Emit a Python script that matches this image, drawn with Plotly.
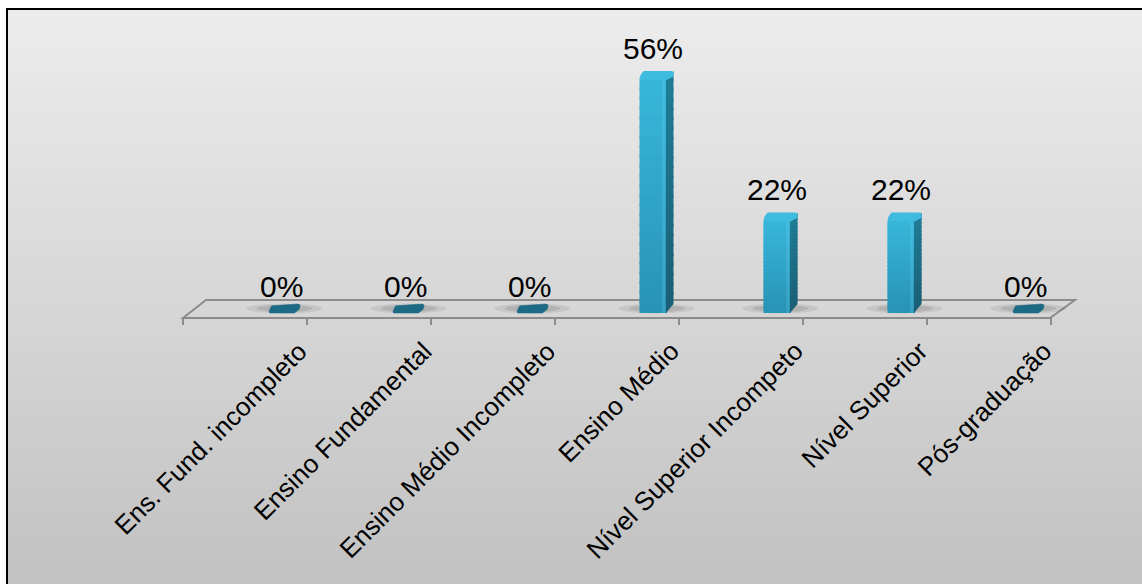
import plotly.graph_objects as go

# ---------------- data ----------------
categories = ["Ens. Fund. incompleto", "Ensino Fundamental", "Ensino Médio Incompleto",
              "Ensino Médio", "Nível Superior Incompeto", "Nível Superior", "Pós-graduação"]
values = [0, 0, 0, 56, 22, 22, 0]
labels = ["0%", "0%", "0%", "56%", "22%", "22%", "0%"]

W, H = 1142, 584
# pixel <-> data mapping (axes span whole figure)
X0PX, XSTEP = 281.0, 124.0      # px of category 0 centre, px per category
Y0PX, YSTEP = 313.0, 4.16       # px of value 0, px per percent


def xp(px):
    return (px - X0PX) / XSTEP


def yp(py):
    return (Y0PX - py) / YSTEP


def mix(c1, c2, t):
    return "rgb(%d,%d,%d)" % tuple(round(c1[j] + (c2[j] - c1[j]) * t) for j in range(3))


XR = [xp(0), xp(W)]
YR = [yp(H), yp(0)]

bar_w = 27 / XSTEP
dx = 7 / XSTEP
dy = 9 / YSTEP

shapes = []

# background gradient (strips)
n = 60
top_px, bot_px = 9, H
c_top, c_bot = (236, 236, 236), (194, 194, 194)
for k in range(n):
    t = k / (n - 1)
    y_a = top_px + (bot_px - top_px) * k / n
    y_b = top_px + (bot_px - top_px) * (k + 1) / n + 1
    shapes.append(dict(type="rect", xref="x", yref="y", x0=xp(7), x1=xp(W + 5),
                       y0=yp(y_a), y1=yp(min(y_b, H)), line=dict(width=0),
                       fillcolor=mix(c_top, c_bot, t), layer="below"))

# floor plane
fl_front_y, fl_back_y = yp(318), yp(300)
shapes.append(dict(type="path", xref="x", yref="y",
                   path="M %f,%f L %f,%f L %f,%f L %f,%f Z" % (
                       xp(183), fl_front_y, xp(1050), fl_front_y,
                       xp(1075), fl_back_y, xp(206), fl_back_y),
                   line=dict(color="#8c8c8c", width=2), fillcolor="rgba(0,0,0,0)", layer="below"))
for k in range(len(categories) + 1):
    tx = xp(183) + k
    shapes.append(dict(type="line", xref="x", yref="y", x0=tx, x1=tx,
                       y0=fl_front_y, y1=yp(325), line=dict(color="#8c8c8c", width=2), layer="below"))

# shadows under bars
for i, v in enumerate(values):
    for (hw, hh, op) in [(38 / XSTEP, 5 / YSTEP, 0.10), (28 / XSTEP, 3.5 / YSTEP, 0.14)]:
        cx = i + dx / 2
        cy = dy / 2
        shapes.append(dict(type="circle", xref="x", yref="y", x0=cx - hw, x1=cx + hw,
                           y0=cy - hh, y1=cy + hh, line=dict(width=0),
                           fillcolor="rgba(60,60,60,%.2f)" % op, layer="below"))

# front gradient, side faces and caps
front_top, front_bot = (56, 182, 218), (40, 148, 182)
side_top, side_bot = (32, 124, 150), (26, 96, 118)
for i, v in enumerate(values):
    l, r = i - bar_w / 2, i + bar_w / 2
    if v > 0:
        m = 24
        for k in range(m):
            ya = v * (1 - k / m)
            yb = v * (1 - (k + 1) / m)
            t = k / (m - 1)
            top_ext = 0.6 if k > 0 else 0.0
            shapes.append(dict(type="rect", xref="x", yref="y", x0=l, x1=r, y0=yb, y1=ya + top_ext,
                               line=dict(width=0), fillcolor=mix(front_top, front_bot, t), layer="above"))
            shapes.append(dict(type="path", xref="x", yref="y",
                               path="M %f,%f L %f,%f L %f,%f L %f,%f Z" % (
                                   r - 0.004, yb, r + dx, yb + dy, r + dx, ya + dy + top_ext,
                                   r - 0.004, ya + top_ext),
                               line=dict(width=0), fillcolor=mix(side_top, side_bot, t), layer="above"))
        # light highlight stripe near right of front face
        shapes.append(dict(type="rect", xref="x", yref="y", x0=r - 0.035, x1=r - 0.012, y0=0, y1=v,
                           line=dict(width=0), fillcolor="rgba(120,215,240,0.22)", layer="above"))
        shapes.append(dict(type="path", xref="x", yref="y",
                           path="M %f,%f Q %f,%f %f,%f L %f,%f Q %f,%f %f,%f L %f,%f L %f,%f Z" % (
                               l, v, l, v + dy * 0.55, l + dx * 0.6, v + dy,
                               r + dx - 0.02, v + dy,
                               r + dx, v + dy, r + dx, v + dy * 0.7,
                               r + dx, v + dy * 0.4, r, v),
                           line=dict(width=0), fillcolor="#3fbbe0", layer="above"))
    else:
        shapes.append(dict(type="path", xref="x", yref="y",
                           path="M %f,%f Q %f,%f %f,%f L %f,%f Q %f,%f %f,%f L %f,%f Q %f,%f %f,%f Z" % (
                               l + 0.02, v, l, v, l + dx * 0.6, v + dy * 0.8,
                               r + dx - 0.03, v + dy, r + dx, v + dy, r + dx - 0.02, v + dy * 0.4,
                               r, v, r - 0.02, v - 0.01, r - 0.04, v),
                           line=dict(color="#1c6a84", width=0.5), fillcolor="#1c6a84", layer="above"))

# frame
shapes.append(dict(type="rect", xref="paper", yref="paper", x0=7 / W, x1=1.05,
                   y0=-0.05, y1=1 - 9 / H, line=dict(color="black", width=2), fillcolor="rgba(0,0,0,0)",
                   layer="above"))

fig = go.Figure()
fig.add_trace(go.Bar(x=list(range(len(categories))), y=values, width=bar_w,
                     marker=dict(color="#2ea6ca", line=dict(width=0)),
                     hoverinfo="skip", showlegend=False))

annotations = []
for i, (v, t) in enumerate(zip(values, labels)):
    annotations.append(dict(x=i, y=v + dy, xref="x", yref="y", text=t, showarrow=False,
                            xanchor="center", yanchor="bottom", yshift=4 if v > 0 else -1,
                            font=dict(family="Liberation Sans, Arial", size=30, color="black")))
for i, c in enumerate(categories):
    annotations.append(dict(x=i + xp(316), y=yp(333), xref="x", yref="y", text=c, showarrow=False,
                            xanchor="right", yanchor="top", textangle=-45,
                            font=dict(family="Liberation Sans, Arial", size=26, color="black")))

fig.update_layout(
    width=W, height=H, margin=dict(l=0, r=0, t=0, b=0),
    paper_bgcolor="white", plot_bgcolor="white",
    xaxis=dict(range=XR, visible=False, fixedrange=True),
    yaxis=dict(range=YR, visible=False, fixedrange=True),
    shapes=shapes, annotations=annotations, bargap=0,
)
fig.write_html("out.html")
